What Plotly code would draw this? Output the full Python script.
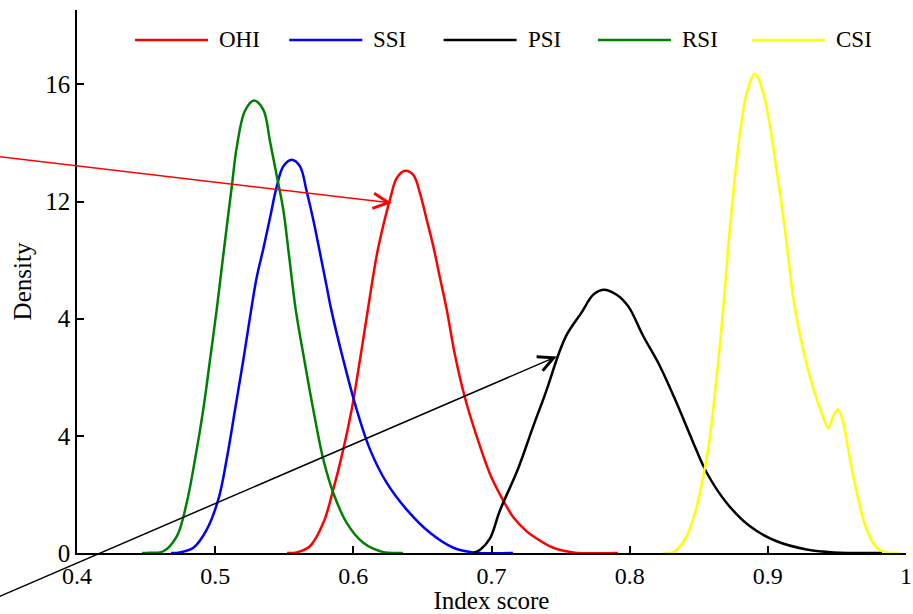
import plotly.graph_objects as go

# ---- data ----
series_names = ["OHI", "SSI", "PSI", "RSI", "CSI"]
series_colors = ["#ff0000", "#0000ff", "#000000", "#008000", "#ffff00"]

ohi_x = [0.552, 0.5590, 0.5686, 0.5783, 0.5855, 0.5927, 0.5988, 0.6048, 0.6100, 0.6138, 0.6175,
         0.6220, 0.6267, 0.6314, 0.6374, 0.6434, 0.6482, 0.6531, 0.6579, 0.6627, 0.6676, 0.6736,
         0.6808, 0.6893, 0.6989, 0.7061, 0.7110, 0.7158, 0.7255, 0.7303, 0.7447, 0.7592, 0.7915]
ohi_y = [0, 0.02, 0.23, 1.03, 2.17, 3.53, 4.9, 6.6, 8.15, 9.3, 10.3,
         11.25, 12.1, 12.8, 13.05, 12.91, 12.29, 11.38, 10.47, 9.4, 8.31, 6.75,
         5.3, 3.98, 2.7, 2.0, 1.58, 1.22, 0.74, 0.57, 0.18, 0.02, 0]

ssi_x = [0.468, 0.4745, 0.4842, 0.4939, 0.5023, 0.5083, 0.5144, 0.5204, 0.5257, 0.5300, 0.5349,
         0.5397, 0.5445, 0.5493, 0.5554, 0.5614, 0.5662, 0.5710, 0.5759, 0.5807, 0.5840, 0.5927,
         0.6024, 0.6121, 0.6241, 0.6386, 0.6555, 0.6724, 0.6868, 0.7156]
ssi_y = [0, 0.02, 0.18, 0.8, 1.83, 3.19, 4.9, 6.6, 8.2, 9.4, 10.4,
         11.45, 12.5, 13.2, 13.43, 13.2, 12.35, 11.38, 10.24, 9.1, 8.31, 6.6,
         4.9, 3.53, 2.4, 1.48, 0.69, 0.18, 0.02, 0]

psi_x = [0.6868, 0.6920, 0.6989, 0.7061, 0.7190, 0.7300, 0.7400, 0.7484, 0.7544, 0.7650, 0.7737,
         0.7809, 0.7906, 0.7990, 0.8099, 0.8220, 0.8340, 0.8461, 0.8558, 0.8702, 0.8871, 0.9064,
         0.9281, 0.9474, 0.9826]
psi_y = [0, 0.12, 0.5, 1.45, 2.85, 4.3, 5.58, 6.77, 7.45, 8.2, 8.82,
         8.99, 8.82, 8.42, 7.4, 6.37, 5.12, 3.76, 2.74, 1.71, 0.91, 0.4,
         0.12, 0.02, 0]

rsi_x = [0.447, 0.4528, 0.4625, 0.4722, 0.4794, 0.4854, 0.4914, 0.4963, 0.5011, 0.5040, 0.5083,
         0.5120, 0.5156, 0.5216, 0.5281, 0.5349, 0.5397, 0.5445, 0.5493, 0.5536, 0.5583, 0.5645,
         0.5710, 0.5783, 0.5855, 0.5952, 0.6072, 0.6217, 0.6310, 0.6360]
rsi_y = [0, 0.01, 0.06, 0.57, 1.71, 3.19, 4.9, 6.6, 8.31, 9.44, 11.1,
         12.5, 13.85, 15.1, 15.45, 15.13, 14.05, 12.9, 11.72, 10.1, 8.31, 6.6,
         4.9, 3.19, 2.05, 1.03, 0.35, 0.03, 0, 0]

csi_x = [0.824, 0.8316, 0.8400, 0.8473, 0.8533, 0.8581, 0.8617, 0.8654, 0.8676, 0.8690, 0.8726,
         0.8762, 0.8798, 0.8847, 0.8907, 0.8967, 0.9016, 0.9052, 0.9088, 0.9136, 0.9184, 0.9245,
         0.9317, 0.9390, 0.9438, 0.9474, 0.9510, 0.9546, 0.9595, 0.9655, 0.9715, 0.9788, 0.9860,
         0.995]
csi_y = [0, 0.03, 0.46, 1.37, 2.62, 3.98, 5.47, 7.17, 8.31, 9.1, 11.15,
         12.86, 14.34, 15.7, 16.36, 15.7, 14.56, 13.43, 12.29, 10.58, 8.7, 7.17,
         5.81, 4.78, 4.27, 4.67, 4.9, 4.44, 3.19, 1.83, 0.8, 0.18, 0.02,
         0]

x_tickvals = [0.4, 0.5, 0.6, 0.7, 0.8, 0.9, 1.0]
x_ticktext = ["0.4", "0.5", "0.6", "0.7", "0.8", "0.9", "1"]
y_tickvals = [0, 4, 8, 12, 16]
y_ticktext = ["0", "4", "4", "12", "16"]

# arrows: (tail_x, tail_y, tip_x, tip_y) in data units
red_arrow = [0.337, 13.57, 0.6278, 11.95]
black_arrow = [0.3298, -1.77, 0.7472, 6.71]

xs = [ohi_x, ssi_x, psi_x, rsi_x, csi_x]
ys = [ohi_y, ssi_y, psi_y, rsi_y, csi_y]

FONT = "Liberation Serif, Times New Roman, serif"

fig = go.Figure()
for name, color, x, y in zip(series_names, series_colors, xs, ys):
    fig.add_trace(go.Scatter(x=x, y=y, mode="lines", name=name,
                             line=dict(color=color, width=2.5, shape="spline", smoothing=1.0),
                             showlegend=False, hoverinfo="skip"))

annotations = []
shapes = []
# custom legend (line samples longer than plotly's built-in)
L, R, T, B = 77, 906, 10, 553.5
W, H = R - L, B - T
for i, (name, color) in enumerate(zip(series_names, series_colors)):
    x0 = 135 + i * 154.3
    y0 = 40
    shapes.append(dict(type="line", xref="paper", yref="paper",
                       x0=(x0 - L) / W, x1=(x0 + 73 - L) / W,
                       y0=(B - y0) / H, y1=(B - y0) / H,
                       line=dict(color=color, width=2.5)))
    annotations.append(dict(xref="paper", yref="paper", x=(x0 + 82 - L) / W, y=(B - y0) / H,
                            text=name, showarrow=False, xanchor="left", yanchor="middle",
                            font=dict(family=FONT, size=23, color="black")))

for arr, color in [(red_arrow, "#ff0000"), (black_arrow, "#000000")]:
    annotations.append(dict(xref="x", yref="y", axref="x", ayref="y",
                            x=arr[2], y=arr[3], ax=arr[0], ay=arr[1], text="",
                            showarrow=True, arrowhead=5, arrowsize=2.0, arrowwidth=1.5,
                            arrowcolor=color, standoff=0, startstandoff=0))

fig.update_layout(
    width=913, height=614,
    margin=dict(l=L, r=913 - R, t=T, b=614 - B),
    plot_bgcolor="white", paper_bgcolor="white",
    font=dict(family=FONT, size=24, color="black"),
    showlegend=False,
    shapes=shapes, annotations=annotations,
    xaxis=dict(range=[0.4, 1.0], tickvals=x_tickvals, ticktext=x_ticktext,
               ticks="inside", ticklen=7, tickwidth=1.5, tickcolor="black",
               showline=True, linewidth=1.5, linecolor="black",
               showgrid=False, zeroline=False, automargin=False,
               tickfont=dict(family=FONT, size=24),
               title=dict(text="Index score", font=dict(family=FONT, size=25), standoff=3)),
    yaxis=dict(range=[0, 18.54], tickvals=y_tickvals, ticktext=y_ticktext,
               ticks="inside", ticklen=7, tickwidth=1.5, tickcolor="black",
               showline=True, linewidth=1.5, linecolor="black",
               showgrid=False, zeroline=False, automargin=False,
               tickfont=dict(family=FONT, size=25),
               title=dict(text="Density", font=dict(family=FONT, size=25), standoff=7)),
)

fig.write_html("out.html")
